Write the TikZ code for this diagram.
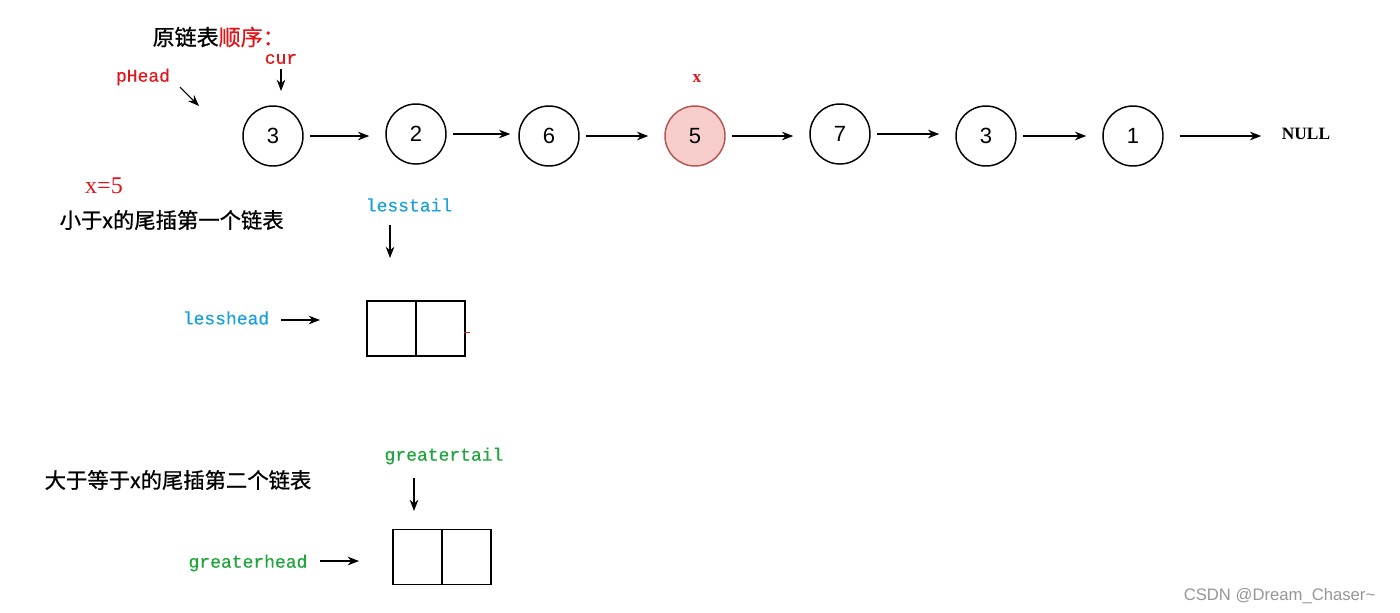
\documentclass[tikz,border=0pt]{standalone}
\usepackage{fontspec}
\setmainfont{Liberation Serif}
\newfontfamily\cjk[FakeBold=0.8]{Noto Sans CJK SC}
\newfontfamily\mono[FakeBold=0.4]{Liberation Mono}
\newfontfamily\arial{Liberation Sans}
\usetikzlibrary{arrows.meta}
\definecolor{myred}{RGB}{225,20,25}
\definecolor{pinkfill}{RGB}{248,206,204}
\definecolor{pinkdraw}{RGB}{184,84,80}
\definecolor{myblue}{RGB}{25,160,220}
\definecolor{mygreen}{RGB}{30,165,60}
\definecolor{wm}{RGB}{150,150,150}
\begin{document}
\begin{tikzpicture}[x=0.75pt,y=-0.75pt,
  lnode/.style={circle,draw,line width=1.1pt,minimum size=45pt,inner sep=0pt,font=\arial\fontsize{16.5}{18}\selectfont},
  xnode/.style={lnode,fill=pinkfill,draw=pinkdraw},
  arr/.style={-{Stealth[length=8.5pt,width=6.5pt]},line width=0.8pt},
  link/.style={arr,shorten <=5pt,shorten >=12pt},
  redmono/.style={text=myred,font=\mono\fontsize{13.5}{15}\selectfont},
  cell/.style={rectangle,draw,line width=0.9pt,minimum width=36.75pt,minimum height=41.25pt,inner sep=0pt},
  title/.style={font=\cjk\fontsize{16}{18}\selectfont,anchor=west}]
\useasboundingbox (0,0) rectangle (1400,612);

% title
\node[anchor=west,font=\cjk\fontsize{16.5}{18}\selectfont] (title) at (148,37) {原链表\textcolor{myred}{顺序：}};

% list nodes
\node[lnode] (c1) at (273,136) {3};
\node[lnode] (c2) at (416,134) {2};
\node[lnode] (c3) at (549,136) {6};
\node[xnode] (c4) at (695,136) {5};
\node[lnode] (c5) at (840,134) {7};
\node[lnode] (c6) at (986,136) {3};
\node[lnode] (c7) at (1133,136) {1};
\node[font=\bfseries\fontsize{13}{15}\selectfont] (null) at (1306,134) {NULL};

\draw[link] (c1.east) -- (c1.east -| c2.west);
\draw[link,shorten >=6pt] (c2.east) -- (c2.east -| c3.west);
\draw[link] (c3.east) -- (c3.east -| c4.west);
\draw[link] (c4.east) -- (c4.east -| c5.west);
\draw[link] (c5.east) -- (c5.east -| c6.west);
\draw[link] (c6.east) -- (c6.east -| c7.west);
\draw[arr,shorten <=12pt,shorten >=12pt] (c7.east) -- (c7.east -| null.west);

% pointers
\node[redmono] (cur) at (281,59) {cur};
\coordinate (curE) at (281,91);
\draw[arr] (cur.south) -- (curE);
\node[redmono] (phead) at (143,77) {pHead};
\coordinate (pheadS) at (180,87);
\coordinate (pheadE) at (199,106);
\draw[arr] (pheadS) -- (pheadE);
\node[text=myred,font=\fontsize{13}{15}\selectfont\bfseries] (xl) at (697,79) {x};

% less list
\node[text=myred,font=\fontsize{18}{20}\selectfont] (x5) at (104,186) {x=5};
\node[title] (t1) at (55,220) {小于x的尾插第一个链表};
\node[text=myblue,font=\mono\fontsize{13.5}{15}\selectfont] (lesstail) at (409,205) {lesstail};
\node[text=myblue,font=\mono\fontsize{13.5}{15}\selectfont] (lesshead) at (226,318) {lesshead};
\node[cell] (l1) at (391.5,328.5) {};
\node[cell] (l2) at (440.5,328.5) {};
\draw[myred,line width=0.6pt] (l2.east) ++(-2,4) -- ++(6,0);
\coordinate (ltS) at (390,225);
\coordinate (ltE) at (390,258);
\draw[arr] (ltS) -- (ltE);
\coordinate (lhS) at (281,320);
\coordinate (lhE) at (320,320);
\draw[arr] (lhS) -- (lhE);

% greater list
\node[title] (t2) at (40,480) {大于等于x的尾插第二个链表};
\node[text=mygreen,font=\mono\fontsize{13.5}{15}\selectfont] (gtail) at (444,456) {greatertail};
\node[text=mygreen,font=\mono\fontsize{13.5}{15}\selectfont] (ghead) at (248,563) {greaterhead};
\node[cell] (g1) at (417.5,557) {};
\node[cell] (g2) at (466.5,557) {};
\coordinate (gtS) at (414,478);
\coordinate (gtE) at (414,511);
\draw[arr] (gtS) -- (gtE);
\coordinate (ghS) at (320,561);
\coordinate (ghE) at (359,561);
\draw[arr] (ghS) -- (ghE);

% watermark
\node[text=wm,font=\arial\fontsize{12.5}{14}\selectfont,anchor=east] (wmk) at (1380,596) {CSDN @Dream\_Chaser\textasciitilde};
\end{tikzpicture}
\end{document}
